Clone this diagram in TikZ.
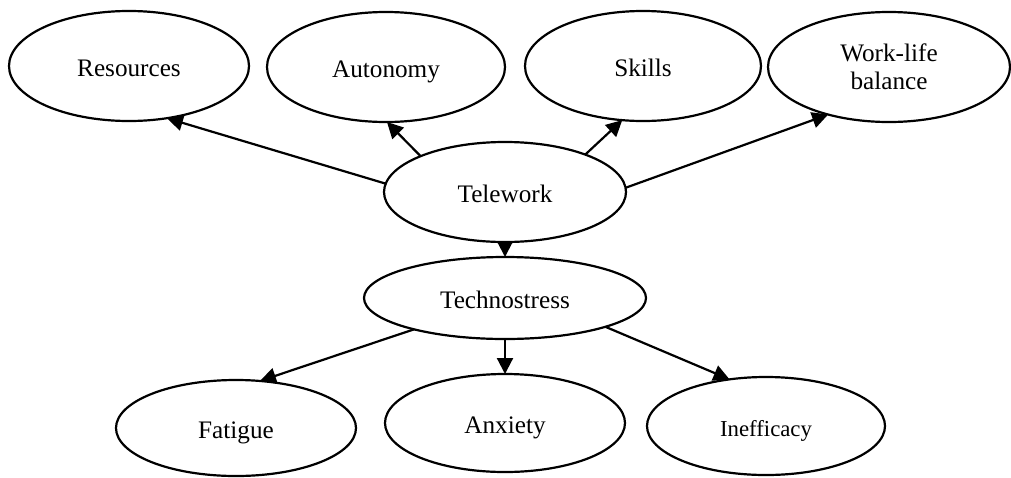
\documentclass[tikz,border=0pt]{standalone}
\usepackage{fontspec}
\setmainfont{Liberation Serif}
\usetikzlibrary{shapes.geometric,arrows.meta}

\tikzset{
    oval/.style={draw, ellipse, line width=1.1pt, inner sep=0pt, outer sep=0pt,
                 align=center, font=\fontsize{12.6}{14}\selectfont},
    word/.style={oval, text height=10.5pt, text depth=0.5pt},
    link/.style={line width=1.1pt, -{Triangle[length=8pt,width=8pt]}}
}

\begin{document}
\begin{tikzpicture}[x=0.5pt, y=-0.5pt]
                    \useasboundingbox (0,0) rectangle (1011,477);

                    \node[word, minimum width=120pt, minimum height=55pt] (res) at (129,66) {Resources};
                    \node[word, minimum width=119pt, minimum height=55pt] (aut) at (386,67) {Autonomy};
                    \node[word, minimum width=118pt, minimum height=55pt] (ski) at (643,66) {Skills};
                    \node[oval, minimum width=121pt, minimum height=55pt] (wlb) at (889,67) {Work-life\\balance};

                    \node[word, minimum width=121pt, minimum height=50pt] (tel) at (505,192) {Telework};
                    \node[word, minimum width=141pt, minimum height=41pt] (tec) at (505,298) {Technostress};

                    \node[word, minimum width=120pt, minimum height=48pt] (fat) at (236,428) {Fatigue};
                    \node[word, minimum width=120pt, minimum height=49pt] (anx) at (505,423) {Anxiety};
                    \node[word, minimum width=119pt, minimum height=49pt, font=\fontsize{11.4}{13}\selectfont] (ine) at (766,426) {Inefficacy};

                    \draw[link] (tel.176) -- (res.306);
                    \draw[link] (tel.157) -- (aut.271);
                    \draw[link] (tel.25) -- (ski.249);
                    \draw[link] (tel.2) -- (wlb.218);
                    \draw[link] (tel.south) -- (tec.north);

                    \draw[link] (tec.199) -- (fat.63);
                    \draw[link] (tec.south) -- (anx.north);
                    \draw[link] (tec.344) -- (ine.128);
\end{tikzpicture}
\end{document}
